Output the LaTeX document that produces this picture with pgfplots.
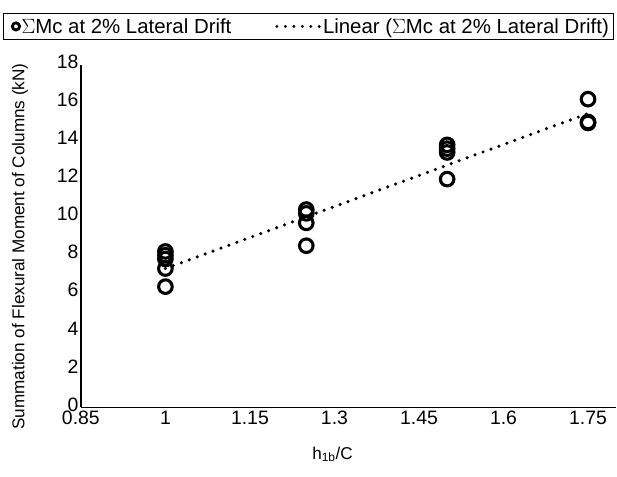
\documentclass[border=0pt]{standalone}
\usepackage{fontspec}
\setmainfont{Liberation Sans}
\usepackage{pgfplots}
\pgfplotsset{compat=1.18}

\pgfplotstableread{
x y
1 8.2
1 8.0
1 7.8
1 7.3
1 6.35
1.25 10.4
1.25 10.2
1.25 9.7
1.25 8.5
1.5 13.8
1.5 13.6
1.5 13.4
1.5 12.0
1.75 16.2
1.75 15.0
1.75 14.95
}\mc

\begin{document}
\begin{tikzpicture}
\begin{axis}[
    scale only axis,
    width=536bp, height=343bp,
    xmin=0.85, xmax=1.8,
    ymin=0, ymax=18,
    axis lines=left,
    axis line style={-, line width=1.6pt},
    major tick length=0pt,
    xtick={0.85,1,1.15,1.3,1.45,1.6,1.75},
    xticklabels={0.85,1,1.15,1.3,1.45,1.6,1.75},
    ytick={0,2,...,18},
    /pgf/number format/assume math mode=true,
    tick label style={font=\fontsize{19.5}{21}\selectfont},
    xticklabel style={yshift=0bp},
    yticklabel style={yshift=3bp, xshift=1bp},
    xlabel={h\textsubscript{1b}/C},
    ylabel={Summation of Flexural Moment of Columns (kN)},
    label style={font=\fontsize{17.2}{19}\selectfont},
    xlabel style={at={(axis description cs:0.47,-0.137)}, anchor=center},
    ylabel style={at={(axis description cs:-0.114,0.47)}, anchor=center},
    legend columns=2,
    legend style={at={(0.425,1)}, anchor=south, yshift=25bp,
        font=\fontsize{20.5}{22}\selectfont, draw=black, line width=0.8pt,
        inner xsep=3bp, inner ysep=3bp,
        /tikz/every even column/.append style={column sep=42bp}},
    clip=false,
]
\addplot[only marks, mark=o, mark size=6.8bp, line width=3.1pt, black,
    legend image code/.code={\path (0cm,0cm); \draw[mark=o, mark size=3.6bp, line width=2.8pt, black] plot coordinates {(0.3cm,0cm)};}]
    table[x=x,y=y] {\mc};
\addlegendentry{$\Sigma$Mc at 2\% Lateral Drift}
\addplot[black, line width=3.5pt, line cap=round, dash pattern=on 0pt off 8.5pt,
    legend image code/.code={\draw[black, line width=3.2pt, line cap=round, dash pattern=on 0pt off 8.5pt] (-0.1cm,0cm) -- (1.4cm,0cm);}]
    coordinates {(1,7.3) (1.75,15.45)};
\addlegendentry{Linear ($\Sigma$Mc at 2\% Lateral Drift)}
\path (axis description cs:-0.1511,-0.2012) rectangle (axis description cs:1,1.1895);
\end{axis}
\end{tikzpicture}
\end{document}
